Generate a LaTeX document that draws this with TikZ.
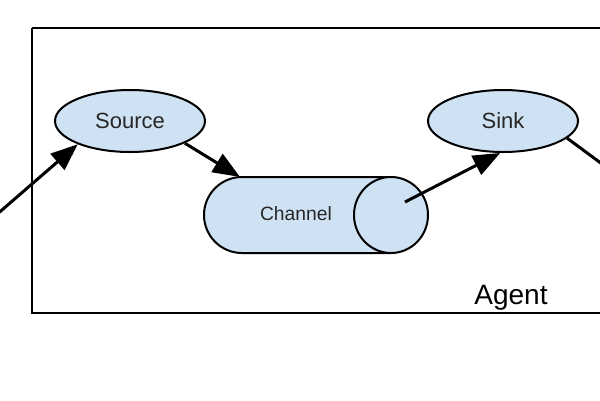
\documentclass[tikz,border=0pt]{standalone}
\usepackage{fontspec}
\setmainfont{Liberation Sans}
\usetikzlibrary{arrows.meta,shapes.geometric}
\definecolor{blfill}{HTML}{CFE2F3}
\begin{document}
\begin{tikzpicture}[x=1pt,y=-1pt,
  blob/.style={ellipse, draw=black, line width=2pt, fill=blfill, inner sep=0pt,
    minimum width=150pt, minimum height=62pt, font=\fontsize{22}{24}\selectfont, text=black!85},
  flow/.style={line width=3pt, -{Triangle[length=27pt,width=21pt]}}]
\useasboundingbox (0,0) rectangle (600,400);
% agent box
\draw[line width=2.5pt] (32,28) -- (620,28) (32,28) -- (32,313) -- (620,313);
\node[anchor=base, font=\fontsize{28}{30}\selectfont] (agent) at (511,304) {Agent};
% nodes
\node[blob] (source) at (130,121) {Source};
\node[blob] (sink) at (503,121) {Sink};
% channel
\draw[line width=2pt, fill=blfill] (391,177) -- (242,177) arc[start angle=270, end angle=90, radius=38] -- (391,253);
\draw[line width=2pt, fill=blfill] (391,215) ellipse[x radius=37, y radius=38];
\node[font=\fontsize{19.3}{21}\selectfont, text=black!85] (channel) at (296,214) {Channel};
\coordinate (chin) at (240,177);
\coordinate (chout) at (405,202);
\coordinate (inflow) at (-20,229);
\coordinate (outflow) at (640,192);
% connectors
\draw[flow] (inflow) -- (source.204);
\draw[flow] (source.338) -- (chin);
\draw[flow] (chout) -- (sink.265);
\draw[flow] (sink.345) -- (outflow);
\end{tikzpicture}
\end{document}
